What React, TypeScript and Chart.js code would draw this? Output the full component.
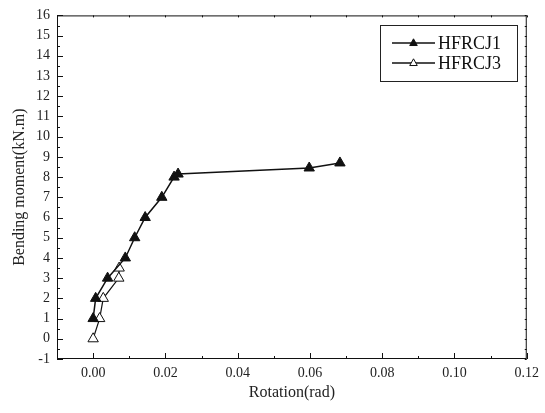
import React, { useEffect, useRef } from "react";
import { Chart, registerables } from "chart.js";

Chart.register(...registerables);

const seriesNames = ["HFRCJ1", "HFRCJ3"];
const hfrcj1Rotation = [0.0, 0.0007, 0.004, 0.0089, 0.0115, 0.0144, 0.019, 0.0224, 0.0235, 0.0598, 0.0683];
const hfrcj1Moment = [1, 2, 3, 4, 5, 6, 7, 8, 8.15, 8.45, 8.7];
const hfrcj3Rotation = [0.0, 0.0018, 0.0028, 0.0071, 0.0072];
const hfrcj3Moment = [0, 1, 2, 3, 3.5];
const xTickValues = [0.0, 0.02, 0.04, 0.06, 0.08, 0.1, 0.12];
const xMinorValues = [-0.01, 0.0, 0.01, 0.02, 0.03, 0.04, 0.05, 0.06, 0.07, 0.08, 0.09, 0.1, 0.11, 0.12];
const yMin = -1;
const yMax = 16;

const FONT = "'Liberation Serif', 'Times New Roman', serif";

const frameTicks = {
  id: "frameTicks",
  afterDatasetsDraw(chart: any) {
    const { ctx, chartArea: a } = chart;
    const xs = chart.scales.x;
    const ys = chart.scales.y;
    ctx.save();
    ctx.strokeStyle = "#111";
    ctx.lineWidth = 1;
    ctx.strokeRect(a.left + 0.5, a.top + 0.5, a.right - a.left - 1, a.bottom - a.top - 1);
    ctx.beginPath();
    xMinorValues.forEach((v) => {
      const px = Math.round(xs.getPixelForValue(v)) + 0.5;
      const major = Math.round(v * 100) % 2 === 0;
      const len = major ? 6 : 3;
      ctx.moveTo(px, a.bottom);
      ctx.lineTo(px, a.bottom - len);
      ctx.moveTo(px, a.top);
      ctx.lineTo(px, a.top + 2);
    });
    for (let k = yMin * 2; k <= yMax * 2; k++) {
      const v = k / 2;
      const py = Math.round(ys.getPixelForValue(v)) + 0.5;
      const major = k % 2 === 0;
      const len = major ? 6 : 3;
      ctx.moveTo(a.left, py);
      ctx.lineTo(a.left + len, py);
      ctx.moveTo(a.right, py);
      ctx.lineTo(a.right - 2, py);
    }
    ctx.stroke();

    // legend
    const bx = 380, by = 25, bw = 137, bh = 56;
    ctx.lineWidth = 1;
    ctx.strokeStyle = "#222";
    ctx.strokeRect(bx + 0.5, by + 0.5, bw, bh);
    const rows = [43, 63];
    rows.forEach((ry, i) => {
      ctx.beginPath();
      ctx.lineWidth = 1.5;
      ctx.strokeStyle = "#111";
      ctx.moveTo(392, ry);
      ctx.lineTo(435, ry);
      ctx.stroke();
      const r = 4.2;
      ctx.beginPath();
      ctx.moveTo(413.5, ry - r);
      ctx.lineTo(413.5 + r * 0.9, ry + r * 0.6);
      ctx.lineTo(413.5 - r * 0.9, ry + r * 0.6);
      ctx.closePath();
      ctx.fillStyle = i === 0 ? "#111" : "#fff";
      ctx.fill();
      ctx.lineWidth = 1;
      ctx.stroke();
      ctx.fillStyle = "#111";
      ctx.font = `18px ${FONT}`;
      ctx.textBaseline = "middle";
      ctx.textAlign = "left";
      ctx.fillText(seriesNames[i], 438, ry + 1);
    });
    ctx.restore();
  },
};

export default function App() {
  const ref = useRef<HTMLCanvasElement | null>(null);
  useEffect(() => {
    if (!ref.current) return;
    const d1 = hfrcj1Rotation.map((x, i) => ({ x, y: hfrcj1Moment[i] }));
    const d3 = hfrcj3Rotation.map((x, i) => ({ x, y: hfrcj3Moment[i] }));
    const chart = new Chart(ref.current, {
      type: "line",
      data: {
        datasets: [
          {
            label: seriesNames[0],
            data: d1,
            borderColor: "#111",
            borderWidth: 1.5,
            backgroundColor: "#111",
            pointStyle: "triangle",
            pointRadius: 6,
            pointBorderColor: "#111",
            pointBackgroundColor: "#111",
            pointBorderWidth: 1,
            tension: 0,
          },
          {
            label: seriesNames[1],
            data: d3,
            borderColor: "#111",
            borderWidth: 1.2,
            backgroundColor: "#fff",
            pointStyle: "triangle",
            pointRadius: 6,
            pointBorderColor: "#111",
            pointBackgroundColor: "#fff",
            pointBorderWidth: 1,
            tension: 0,
          },
        ],
      },
      options: {
        animation: false,
        responsive: false,
        maintainAspectRatio: false,
        layout: { padding: { top: 14, right: 16, left: 0, bottom: 0 } },
        plugins: { legend: { display: false }, tooltip: { enabled: false } },
        scales: {
          x: {
            type: "linear",
            min: -0.01,
            max: 0.12,
            grid: { display: false, drawTicks: false },
            border: { display: false },
            afterBuildTicks: (s: any) => {
              s.ticks = xTickValues.map((v) => ({ value: v }));
            },
            afterFit: (s: any) => {
              s.height = 54;
            },
            ticks: {
              padding: 6,
              color: "#222",
              font: { family: FONT, size: 14 },
              maxRotation: 0,
              callback: (v: any) => Number(v).toFixed(2),
            },
            title: {
              display: true,
              text: "Rotation(rad)",
              color: "#222",
              font: { family: FONT, size: 16 },
              padding: { top: 0, bottom: 11 },
            },
          },
          y: {
            type: "linear",
            min: yMin,
            max: yMax,
            grid: { display: false, drawTicks: false },
            border: { display: false },
            afterFit: (s: any) => {
              s.width = 57;
            },
            ticks: {
              stepSize: 1,
              padding: 7,
              color: "#222",
              font: { family: FONT, size: 14 },
              callback: (v: any) => String(v),
            },
            title: {
              display: true,
              text: "Bending moment(kN.m)",
              color: "#222",
              font: { family: FONT, size: 16 },
              padding: { top: 10, bottom: 0 },
            },
          },
        },
      },
      plugins: [frameTicks],
    });
    return () => chart.destroy();
  }, []);
  return (
    <div style={{ position: "absolute", left: 0, top: 0, width: 545, height: 413 }}>
      <canvas ref={ref} width={545} height={413} style={{ width: 545, height: 413, display: "block" }} />
    </div>
  );
}
